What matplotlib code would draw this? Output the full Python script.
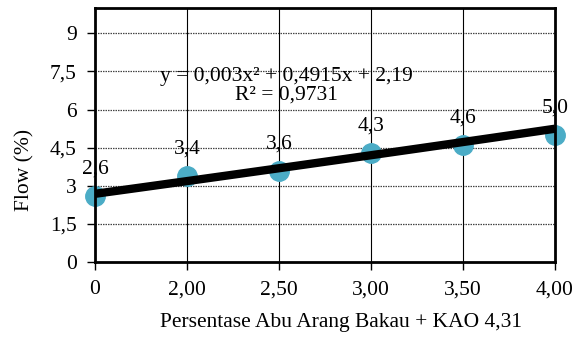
import numpy as np
import matplotlib.pyplot as plt

plt.rcParams['font.family'] = ['Liberation Serif', 'DejaVu Serif']

# data
kadar = ['0', '2,00', '2,50', '3,00', '3,50', '4,00']
flow = [2.6, 3.4, 3.6, 4.3, 4.6, 5.0]
flow_label = ['2,6', '3,4', '3,6', '4,3', '4,6', '5,0']
# polynomial trendline (order 2) on category index 1..n
koef = [0.003, 0.4915, 2.19]
persamaan = 'y = 0,003x² + 0,4915x + 2,19\nR² = 0,9731'

yticks = [0, 1.5, 3, 4.5, 6, 7.5, 9]
ytick_label = ['0', '1,5', '3', '4,5', '6', '7,5', '9']

fs = 15.5

fig = plt.figure(figsize=(5.82, 3.38), dpi=100)
ax = fig.add_axes([95/582, 1 - 262/338, 460/582, 254/338])

idx = np.arange(1, len(kadar) + 1)

# grid
for y in yticks[1:]:
    ax.axhline(y, color='#444444', lw=0.9, ls=(0, (1.2, 0.8)), zorder=1)
for x in idx[1:-1]:
    ax.axvline(x, color='black', lw=0.8, zorder=1)

ax.plot(idx, flow, 'o', ms=14, color='#4BACC6', zorder=3, clip_on=False)

xt = np.linspace(idx[0], idx[-1], 100)
ax.plot(xt, np.polyval(koef, xt), color='black', lw=6, solid_capstyle='butt', zorder=4)

for x, y, t in zip(idx, flow, flow_label):
    ax.text(x, y + 1.05, t, ha='center', va='center', fontsize=fs, zorder=5)

ax.text(3.08, 6.93, persamaan, ha='center', va='center',
        fontsize=fs, linespacing=1.0, zorder=5)

ax.set_xlim(idx[0], idx[-1])
ax.set_ylim(0, 10)
ax.set_xticks(idx)
ax.set_xticklabels(kadar, fontsize=fs)
ax.set_yticks(yticks)
ax.set_yticklabels(ytick_label, fontsize=fs)
ax.tick_params(direction='out', length=6, width=1, pad=7)

for s in ax.spines.values():
    s.set_linewidth(2)
    s.set_zorder(6)

# axis titles placed as figure text
fig.text(341/582, 1 - 323/338, 'Persentase Abu Arang Bakau + KAO 4,31',
         ha='center', va='center', fontsize=fs)
fig.text(25/582, 1 - 170/338, 'Flow (%)', ha='center', va='center',
         rotation=90, fontsize=fs)

fig.savefig('out.png', dpi=100)
